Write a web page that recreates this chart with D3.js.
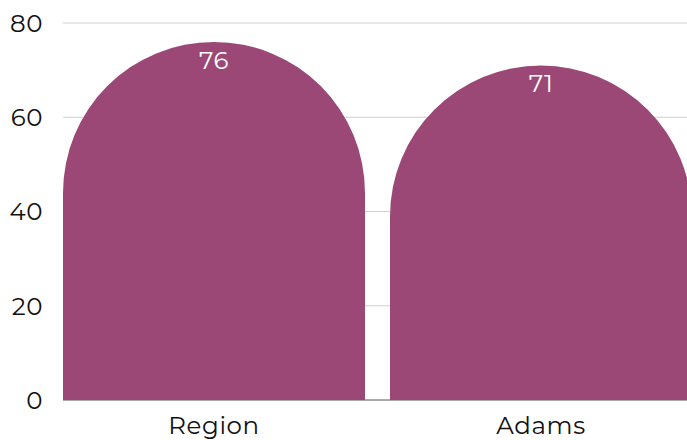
<!DOCTYPE html>
<html>
<head>
<meta charset="utf-8">
<script src="https://cdn.jsdelivr.net/npm/d3@7"></script>
<style>
body { margin: 0; background: #fff; }
svg text { font-family: "Montserrat", "Lato", "Open Sans", sans-serif; letter-spacing: 0.6px; }
</style>
</head>
<body>
<svg id="chart" width="687" height="440"></svg>
<script>
const categories = ["Region", "Adams"];
const values = [76, 71];
const yTicks = [0, 20, 40, 60, 80];

const width = 687, height = 440;
const marginTop = 23, marginBottom = 40, marginLeft = 63;

const svg = d3.select("#chart");

const x = d3.scaleBand()
    .domain(categories)
    .range([marginLeft, 692])
    .paddingInner(25 / 327)
    .paddingOuter(0);

const y = d3.scaleLinear()
    .domain([0, 80])
    .range([height - marginBottom, marginTop]);

// gridlines
svg.append("g")
    .selectAll("line")
    .data(yTicks.filter(d => d > 0))
    .join("line")
    .attr("x1", marginLeft)
    .attr("x2", width)
    .attr("y1", d => y(d))
    .attr("y2", d => y(d))
    .attr("stroke", "#cfcfcf")
    .attr("stroke-width", 1);

// baseline
svg.append("line")
    .attr("x1", marginLeft)
    .attr("x2", width)
    .attr("y1", y(0))
    .attr("y2", y(0))
    .attr("stroke", "#555")
    .attr("stroke-width", 1);

// y tick labels
svg.append("g")
    .selectAll("text")
    .data(yTicks)
    .join("text")
    .attr("x", 43)
    .attr("y", d => y(d))
    .attr("dy", "0.36em")
    .attr("text-anchor", "end")
    .attr("font-size", 24.5)
    .attr("fill", "#111")
    .text(d => d);

// bars with round tops
const bw = x.bandwidth();
const r = bw / 2;
function barPath(cat, v) {
    const x0 = x(cat), x1 = x0 + bw;
    const yb = y(0), yt = y(v);
    const ys = yt + r;
    return `M${x0},${yb}L${x0},${ys}A${r},${r} 0 0 1 ${x1},${ys}L${x1},${yb}Z`;
}

const data = categories.map((c, i) => ({ key: c, value: values[i] }));

svg.append("g")
    .selectAll("path")
    .data(data)
    .join("path")
    .attr("d", d => barPath(d.key, d.value))
    .attr("fill", "#9c4876");

// value labels
svg.append("g")
    .selectAll("text")
    .data(data)
    .join("text")
    .attr("x", d => x(d.key) + bw / 2)
    .attr("y", d => y(d.value) + 27)
    .attr("text-anchor", "middle")
    .attr("font-size", 24.5)
    .attr("fill", "#fff")
    .text(d => d.value);

// category labels
svg.append("g")
    .selectAll("text")
    .data(categories)
    .join("text")
    .attr("x", d => x(d) + bw / 2)
    .attr("y", 434)
    .attr("text-anchor", "middle")
    .attr("font-size", 24.5)
    .attr("fill", "#111")
    .text(d => d);
</script>
</body>
</html>
